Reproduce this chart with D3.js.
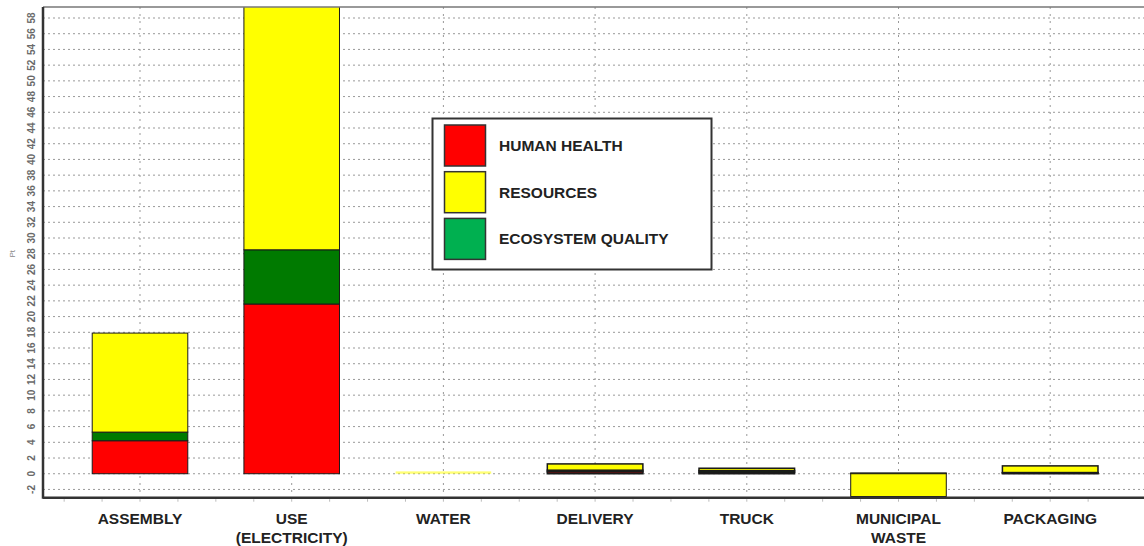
<!DOCTYPE html>
<html>
<head>
<meta charset="utf-8">
<script src="https://cdn.jsdelivr.net/npm/d3@7"></script>
<style>
  body { margin: 0; background: #fff; }
  svg { display: block; font-family: "Liberation Sans", Arial, sans-serif; }
</style>
</head>
<body>
<svg width="1144" height="546"></svg>
<script>
// categories and series (Pt)
var categories = ["ASSEMBLY", "USE (ELECTRICITY)", "WATER", "DELIVERY", "TRUCK", "MUNICIPAL WASTE", "PACKAGING"];
var humanHealth = [4.2, 21.6, 0, 0.25, 0.2, 0.05, 0.1];
var ecosystemQuality = [1.1, 6.9, 0, 0.2, 0.2, 0.05, 0.05];
var resources = [12.6, 31.0, 0.3, 0.8, 0.3, -2.9, 0.85];
var yTicks = d3.range(-2, 59, 2);

var seriesKeys = ["hh", "eq", "res"];
var seriesNames = {hh: "HUMAN HEALTH", res: "RESOURCES", eq: "ECOSYSTEM QUALITY"};
var barColor = {hh: "#ff0000", eq: "#007a00", res: "#ffff00"};
var legendColor = {hh: "#ff0000", res: "#ffff00", eq: "#00b050"};

var rows = categories.map(function(c, i) {
  return {cat: c, hh: humanHealth[i], eq: ecosystemQuality[i], res: resources[i]};
});

var svg = d3.select("svg");
var plotLeft = 43, plotRight = 1150, plotTop = 7, plotBottom = 497.7;

var x = d3.scaleBand()
  .domain(categories)
  .range([64.15, 64.15 + 7 * 151.7])
  .paddingInner(0.37)
  .paddingOuter(0.185);

var y = d3.scaleLinear().domain([-3.05, 59.4]).range([plotBottom, plotTop]);

svg.append("defs").append("clipPath").attr("id", "plot")
  .append("rect").attr("x", plotLeft).attr("y", plotTop)
  .attr("width", plotRight - plotLeft).attr("height", plotBottom - plotTop);

// grid
var grid = svg.append("g");
grid.selectAll("line.h").data(yTicks).enter().append("line")
  .attr("x1", plotLeft).attr("x2", plotRight)
  .attr("y1", function(d) { return y(d); }).attr("y2", function(d) { return y(d); })
  .attr("stroke", "#999").attr("stroke-width", 1).attr("stroke-dasharray", "2,3");
grid.selectAll("line.v").data(categories).enter().append("line")
  .attr("x1", function(d) { return x(d) + x.bandwidth() / 2; })
  .attr("x2", function(d) { return x(d) + x.bandwidth() / 2; })
  .attr("y1", plotTop).attr("y2", plotBottom)
  .attr("stroke", "#999").attr("stroke-width", 1).attr("stroke-dasharray", "2,5");

// bars
var stack = d3.stack().keys(seriesKeys).offset(d3.stackOffsetDiverging);
var layers = stack(rows);

function stackTotal(d) {
  return Math.abs(d.data.hh) + Math.abs(d.data.eq) + Math.abs(d.data.res);
}

var bars = svg.append("g").attr("clip-path", "url(#plot)");
layers.forEach(function(layer) {
  bars.selectAll(null).data(layer).enter().append("rect")
    .attr("x", function(d) { return x(d.data.cat); })
    .attr("width", x.bandwidth())
    .attr("y", function(d) { return y(Math.max(d[0], d[1])); })
    .attr("height", function(d) { return Math.abs(y(d[0]) - y(d[1])); })
    .attr("fill", barColor[layer.key])
    .attr("stroke", function(d) { return stackTotal(d) < 0.35 ? "none" : "#1a1a1a"; })
    .attr("stroke-width", function(d) { return stackTotal(d) < 2 ? 1.5 : 1; })
    .attr("opacity", function(d) { return stackTotal(d) < 0.35 ? 0.55 : 1; });
});

// frame
svg.append("line").attr("x1", plotLeft).attr("x2", plotRight).attr("y1", plotTop).attr("y2", plotTop)
  .attr("stroke", "#777").attr("stroke-width", 1.5);
svg.append("line").attr("x1", plotLeft).attr("x2", plotLeft).attr("y1", plotTop).attr("y2", plotBottom + 1)
  .attr("stroke", "#333").attr("stroke-width", 2.5);
svg.append("line").attr("x1", plotLeft).attr("x2", plotRight).attr("y1", plotBottom).attr("y2", plotBottom)
  .attr("stroke", "#333").attr("stroke-width", 2.5);

// small ticks under the x axis
var minor = [];
categories.forEach(function(c) {
  var cx = x(c) + x.bandwidth() / 2;
  [-2, -1, 0, 1].forEach(function(k) { minor.push(cx + k * x.step() / 4); });
});
svg.append("g").selectAll("line").data(minor).enter().append("line")
  .attr("x1", function(d) { return d; }).attr("x2", function(d) { return d; })
  .attr("y1", plotBottom + 1.5).attr("y2", plotBottom + 4)
  .attr("stroke", "#bbb").attr("stroke-width", 1);

// y tick labels, turned sideways
svg.append("g").selectAll("text").data(yTicks).enter().append("text")
  .attr("transform", function(d) { return "translate(34.5," + y(d) + ") rotate(-90)"; })
  .attr("text-anchor", "middle")
  .attr("font-size", 10).attr("font-weight", "bold").attr("fill", "#6a6a6a")
  .text(function(d) { return d; });
svg.append("text")
  .attr("transform", "translate(15," + y(28) + ") rotate(-90)")
  .attr("text-anchor", "middle")
  .attr("font-size", 8).attr("fill", "#888")
  .text("Pt");

// x labels
var xl = svg.append("g").selectAll("text").data(categories).enter().append("text")
  .attr("x", function(d) { return x(d) + x.bandwidth() / 2; })
  .attr("y", 524)
  .attr("text-anchor", "middle")
  .attr("font-size", 15.5).attr("font-weight", "bold").attr("fill", "#222");
xl.each(function(d) {
  var parts = d.split(" ");
  var t = d3.select(this);
  parts.forEach(function(p, i) {
    t.append("tspan").attr("x", t.attr("x")).attr("dy", i === 0 ? 0 : 18.5).text(p);
  });
});

// legend
var lg = svg.append("g").attr("transform", "translate(432.5,118.5)");
lg.append("rect").attr("width", 279).attr("height", 151)
  .attr("fill", "#fff").attr("stroke", "#333").attr("stroke-width", 2);
var legendOrder = ["hh", "res", "eq"];
var li = lg.selectAll("g.item").data(legendOrder).enter().append("g")
  .attr("transform", function(d, i) { return "translate(12," + (6.5 + i * 46.7) + ")"; });
li.append("rect").attr("width", 41).attr("height", 41)
  .attr("fill", function(d) { return legendColor[d]; })
  .attr("stroke", "#333").attr("stroke-width", 1.5);
li.append("text").attr("x", 54.5).attr("y", 26)
  .attr("font-size", 15.5).attr("font-weight", "bold").attr("fill", "#222")
  .text(function(d) { return seriesNames[d]; });
</script>
</body>
</html>
